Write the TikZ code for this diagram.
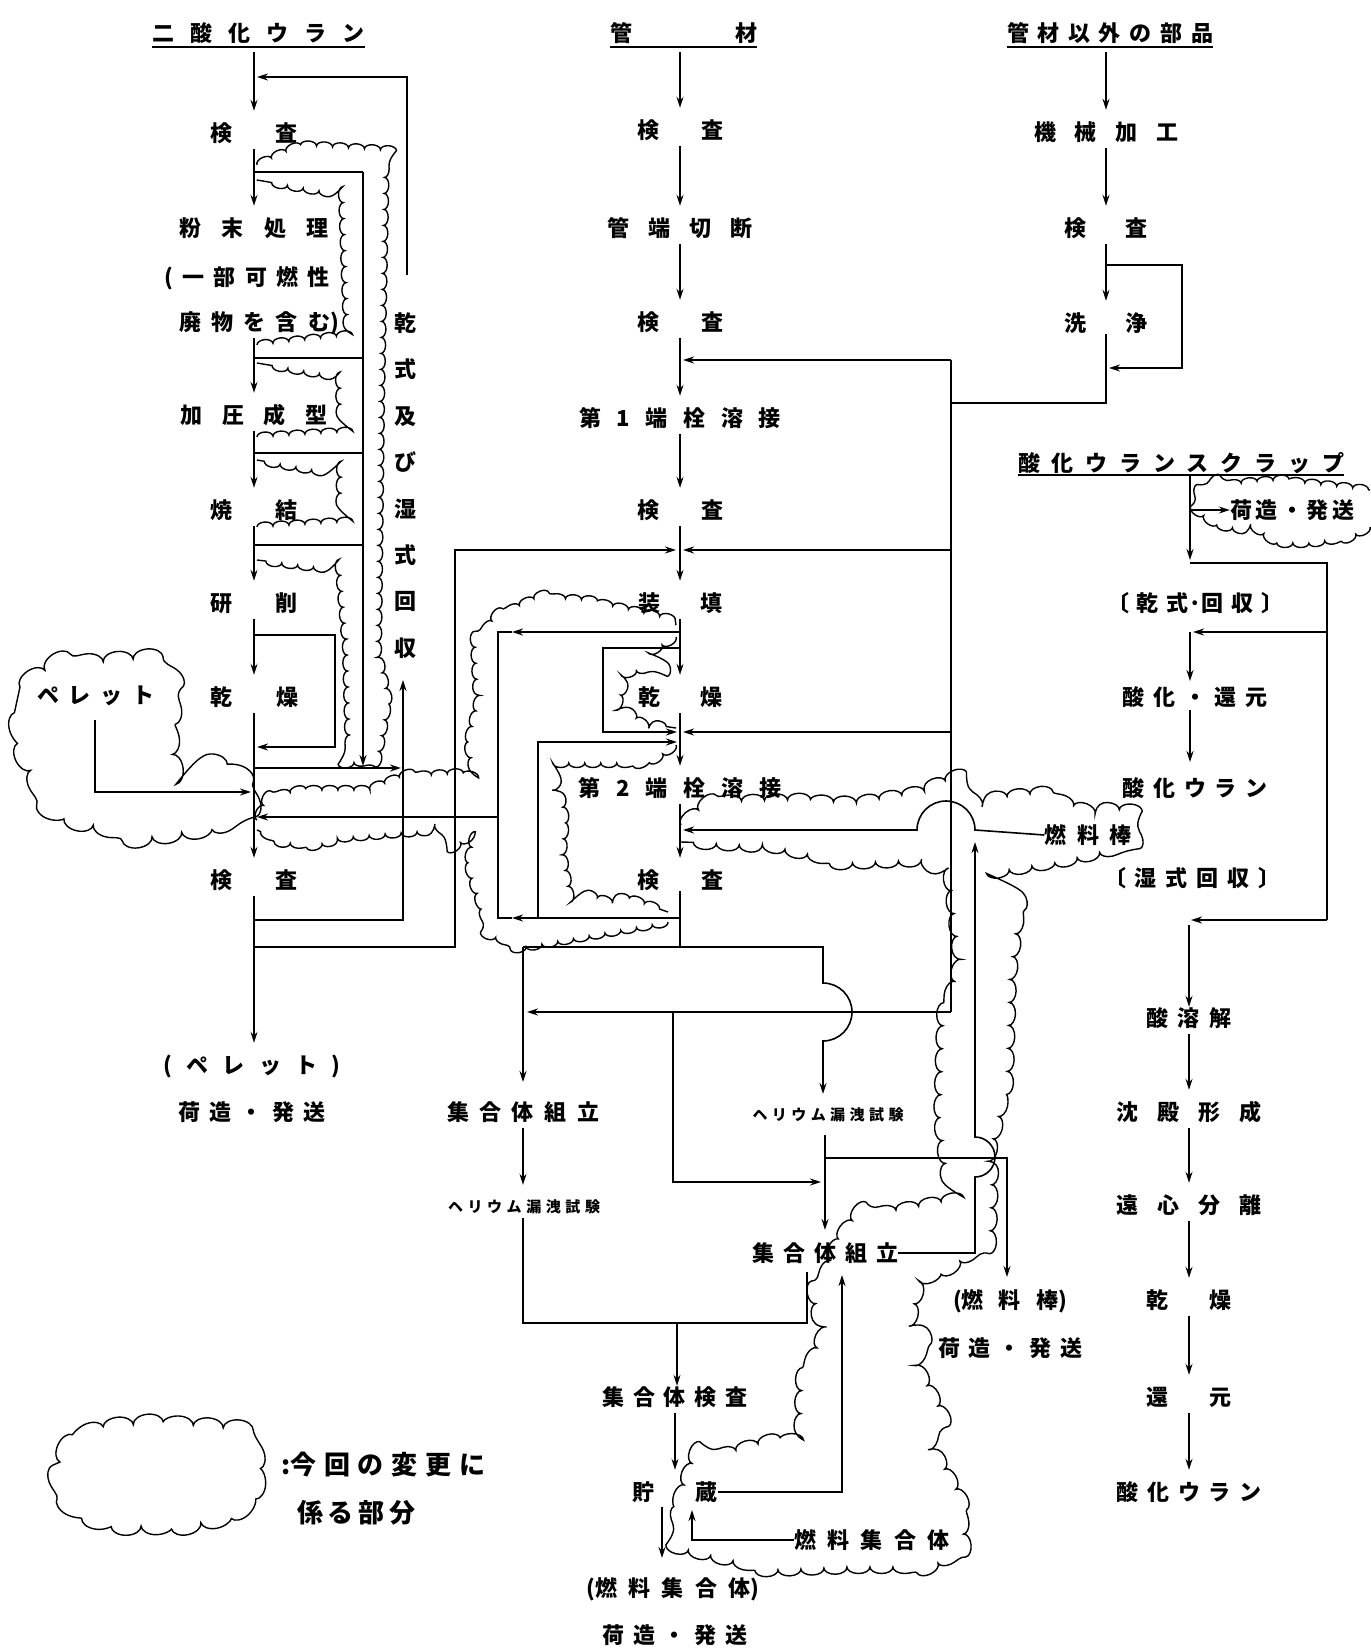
\documentclass[tikz,border=0pt]{standalone}
\usepackage{fontspec}
\newfontfamily\jp{Noto Sans CJK JP}
\usetikzlibrary{arrows.meta,decorations.pathmorphing}
\newcommand\spreadbox[2]{\makebox[#1]{#2}}
\begin{document}
\begin{tikzpicture}[x=1pt,y=-1pt,
  txt/.style={font=\jp\bfseries\fontsize{22}{24}\selectfont, inner sep=0pt, text height=19.4pt, text depth=2.6pt, minimum height=22pt},
  sml/.style={font=\jp\bfseries\fontsize{15}{16}\selectfont, inner sep=0pt, text height=13.2pt, text depth=1.8pt, minimum height=22pt},
  ttl/.style={txt, inner ysep=3pt},
  leg/.style={font=\jp\bfseries\fontsize{26}{28}\selectfont, inner sep=0pt, anchor=west},
  ln/.style={line width=1.6pt},
  arr/.style={ln, -{Stealth[length=11pt,width=7pt]}},
  flow/.style={arr, shorten <=5pt, shorten >=11pt},
  cloudS/.style={line width=1.4pt, decorate, decoration={bumps, segment length=32pt, amplitude=4.5pt}},
  cloudM/.style={line width=1.4pt, decorate, decoration={bumps, segment length=46pt, amplitude=6.5pt}},
  cloudL/.style={line width=1.4pt, decorate, decoration={bumps, segment length=60pt, amplitude=9pt}}]
\fill[white] (0,0) rectangle (1370,1648);
\useasboundingbox (0,0) rectangle (1370,1648);

% ---------------- left column: uranium dioxide ----------------
\node[ttl] (tU) at (258.5,33) {\spreadbox{212pt}{二\hfill 酸\hfill 化\hfill ウ\hfill ラ\hfill ン}};
\draw[ln] (tU.south west) -- (tU.south east);
\node[txt] (kL1) at (254,133) {\spreadbox{87pt}{検\hfill 査}};
\node[txt] (fun1) at (254,228) {\spreadbox{150pt}{粉\hfill 末\hfill 処\hfill 理}};
\node[txt] (fun2) at (247,277) {\spreadbox{165pt}{(\hfill 一\hfill 部\hfill 可\hfill 燃\hfill 性}};
\node[txt] (fun3) at (259,322) {\spreadbox{160pt}{廃\hfill 物\hfill を\hfill 含\hfill む)}};
\node[txt] (kaatsu) at (254,415) {\spreadbox{147pt}{加\hfill 圧\hfill 成\hfill 型}};
\node[txt] (shoketsu) at (254,510) {\spreadbox{87pt}{焼\hfill 結}};
\node[txt] (kensaku) at (254,603) {\spreadbox{87pt}{研\hfill 削}};
\node[txt] (kansoL) at (254,697) {\spreadbox{88pt}{乾\hfill 燥}};
\node[txt] (kL2) at (254,880) {\spreadbox{87pt}{検\hfill 査}};
\node[txt] (pelL) at (252,1065) {\spreadbox{177pt}{(\hfill ペ\hfill レ\hfill ッ\hfill ト\hfill )}};
\node[txt] (niL) at (252,1112) {\spreadbox{147pt}{荷\hfill 造\hfill ・\hfill 発\hfill 送}};
\node[txt] (pelC) at (96,695) {\spreadbox{118pt}{ペ\hfill レ\hfill ッ\hfill ト}};
\foreach \c [count=\i] in {乾,式,及,び,湿,式,回,収}
  \node[txt] (v\i) at (405,{323+46.4*(\i-1)}) {\c};

\draw[flow] (tU.south -| kL1) -- (kL1.north);
\draw[flow] (kL1.south) -- (fun1.north);
\draw[flow] (fun3.south -| kL1) -- (kaatsu.north);
\draw[flow] (kaatsu.south) -- (shoketsu.north);
\draw[flow] (shoketsu.south) -- (kensaku.north);
\draw[flow] (kensaku.south) -- (kansoL.north);
\draw[flow] (kansoL.south) -- (kL2.north);
\draw[flow] (kL2.south) -- (pelL.north -| kL2);

\coordinate (Lb1) at (254,172); \coordinate (Lb2) at (254,358);
\coordinate (Lb3) at (254,453); \coordinate (Lb4) at (254,545);
\coordinate (Rv) at (363,172);  \coordinate (RvE) at (363,766);
\draw[ln] (Lb1) -- (Rv);
\draw[arr] (Rv) -- (RvE);
\draw[ln] (Lb2) -- (Rv |- Lb2);
\draw[ln] (Lb3) -- (Rv |- Lb3);
\draw[ln] (Lb4) -- (Rv |- Lb4);
\coordinate (Lb5) at (254,635); \coordinate (Lb6) at (257,747);
\draw[arr] (Lb5) -- (335,635) -- (335,747) -- (Lb6);
\coordinate (Lb7) at (254,768); \coordinate (UpL) at (401,768);
\draw[arr] (Lb7) -- (UpL);
\coordinate (Lb9) at (254,920); \coordinate (UpTip) at (403,680);
\draw[arr] (Lb9) -- (403,920) -- (UpTip);
\coordinate (RecTop) at (407,275); \coordinate (Lb0) at (257,77);
\draw[arr] (RecTop) -- (407,77) -- (Lb0);
\coordinate (P1) at (95,720); \coordinate (Lp) at (251,792);
\draw[arr] (P1) -- (95,792) -- (Lp);
\coordinate (Lb8) at (257,817); \coordinate (Vx) at (498,817);
\draw[arr] (Vx) -- (Lb8);
\coordinate (Lb10) at (254,947); \coordinate (Mb1) at (676,550);
\draw[arr] (Lb10) -- (455,947) -- (455,550) -- (Mb1);

% ---------------- middle column: tubing ----------------
\node[ttl] (tK) at (683.5,33) {\spreadbox{147pt}{管\hfill 材}};
\draw[ln] (tK.south west) -- (tK.south east);
\node[txt] (kM1) at (680,130) {\spreadbox{86pt}{検\hfill 査}};
\node[txt] (kantan) at (680,228) {\spreadbox{145pt}{管\hfill 端\hfill 切\hfill 断}};
\node[txt] (kM2) at (680,322) {\spreadbox{86pt}{検\hfill 査}};
\node[txt] (dai1) at (680,418) {\spreadbox{202pt}{第\hfill 1\hfill 端\hfill 栓\hfill 溶\hfill 接}};
\node[txt] (kM3) at (680,510) {\spreadbox{86pt}{検\hfill 査}};
\node[txt] (soten) at (680,603) {\spreadbox{84pt}{装\hfill 填}};
\node[txt] (kansoM) at (680,697) {\spreadbox{84pt}{乾\hfill 燥}};
\node[txt] (dai2) at (680,788) {\spreadbox{203pt}{第\hfill 2\hfill 端\hfill 栓\hfill 溶\hfill 接}};
\node[txt] (kM4) at (680,880) {\spreadbox{86pt}{検\hfill 査}};

\draw[flow] (tK.south -| kM1) -- (kM1.north);
\draw[flow] (kM1.south) -- (kantan.north);
\draw[flow] (kantan.south) -- (kM2.north);
\draw[flow] (kM2.south) -- (dai1.north);
\draw[flow] (dai1.south) -- (kM3.north);
\draw[flow] (kM3.south) -- (soten.north);
\draw[flow] (soten.south) -- (kansoM.north);
\draw[flow] (kansoM.south) -- (dai2.north);
\draw[flow] (dai2.south) -- (kM4.north);
\draw[ln] (kM4.south) -- (680,947);

% parts line
\coordinate (Pt) at (951,360); \coordinate (Pb) at (951,1012);
\draw[ln] (Pt) -- (Pb);
\draw[arr] (Pt) -- (683,360);
\draw[arr] (951,550) -- (683,550);
\draw[arr] (951,732) -- (683,732);
\draw[arr] (Pb) -- (527,1012);

% loops around loading / drying
\draw[arr] (680,632) -- (512,632);
\draw[ln] (512,632) -- (Vx |- 0,632) -- (498,918) -- (512,918);
\draw[arr] (680,918) -- (512,918);
\draw[arr] (680,648) -- (603,648) -- (603,732) -- (677,732);
\draw[arr] (538,918) -- (538,742) -- (677,742);

% distribution to assembly
\draw[ln] (523,947) -- (680,947);
\draw[arr] (680,947) -- (823,947) -- (823,983) arc[start angle=90,end angle=-90,radius=29pt] -- (823,1094);
\draw[arr] (523,947) -- (523,1082);
\draw[arr] (673,1012) -- (673,1182) -- (821,1182);

% ---------------- assembly area ----------------
\node[txt] (shuL) at (523,1112) {\spreadbox{152pt}{集\hfill 合\hfill 体\hfill 組\hfill 立}};
\node[sml] (helL) at (524,1207) {\spreadbox{152pt}{ヘ\hfill リ\hfill ウ\hfill ム\hfill 漏\hfill 洩\hfill 試\hfill 験}};
\node[sml] (helR) at (828,1115) {\spreadbox{151pt}{ヘ\hfill リ\hfill ウ\hfill ム\hfill 漏\hfill 洩\hfill 試\hfill 験}};
\node[txt] (shuR) at (825,1253) {\spreadbox{146pt}{集\hfill 合\hfill 体\hfill 組\hfill 立}};
\node[txt] (shuK) at (675,1397) {\spreadbox{145pt}{集\hfill 合\hfill 体\hfill 検\hfill 査}};
\node[txt] (chozo) at (675,1492) {\spreadbox{85pt}{貯\hfill 蔵}};
\node[txt] (nenS) at (673,1588) {\spreadbox{173pt}{(燃\hfill 料\hfill 集\hfill 合\hfill 体)}};
\node[txt] (niM) at (675,1635) {\spreadbox{145pt}{荷\hfill 造\hfill ・\hfill 発\hfill 送}};
\node[txt] (nenSA) at (872,1540) {\spreadbox{155pt}{燃\hfill 料\hfill 集\hfill 合\hfill 体}};
\node[txt] (nenB) at (1088,835) {\spreadbox{87pt}{燃\hfill 料\hfill 棒}};
\node[txt] (nenB2) at (1010,1300) {\spreadbox{114pt}{(燃\hfill 料\hfill 棒)}};
\node[txt] (niB) at (1010,1348) {\spreadbox{144pt}{荷\hfill 造\hfill ・\hfill 発\hfill 送}};

\draw[flow] (shuL.south) -- (helL.north -| shuL);
\draw[ln] (825,1135) -- (825,1158);
\draw[arr] (825,1158) -- (825,1230);
\draw[arr] (825,1158) -- (1007,1158) -- (1007,1277);
\draw[arr] (shuR.east) -- (975,1253) -- (975,1177) arc[start angle=-90,end angle=90,radius=20pt] -- (975,842);
\draw[arr] (nenB.west) -- (975,830) arc[start angle=0,end angle=180,radius=29pt] -- (683,830);
\draw[ln] (helL.south -| shuL) -- (523,1323) -- (807,1323) -- (807,1272);
\draw[arr] (677,1323) -- (shuK.north -| 677,0);
\draw[flow] (shuK.south) -- (chozo.north);
\draw[arr] (662,1507) -- (662,1558);
\draw[arr] (chozo.east) -- (842,1492) -- (842,1275);
\draw[arr] (nenSA.west) -- (692,1540) -- (692,1510);

% ---------------- right: parts other than tubing ----------------
\node[ttl] (tB) at (1110,33) {\spreadbox{206pt}{管\hfill 材\hfill 以\hfill 外\hfill の\hfill 部\hfill 品}};
\draw[ln] (tB.south west) -- (tB.south east);
\node[txt] (kikai) at (1106,132) {\spreadbox{144pt}{機\hfill 械\hfill 加\hfill 工}};
\node[txt] (kR1) at (1106,228) {\spreadbox{83pt}{検\hfill 査}};
\node[txt] (senjo) at (1106,323) {\spreadbox{83pt}{洗\hfill 浄}};
\draw[flow] (tB.south -| kikai) -- (kikai.north);
\draw[flow] (kikai.south) -- (kR1.north);
\draw[flow] (kR1.south) -- (senjo.north);
\draw[arr] (1106,265) -- (1182,265) -- (1182,368) -- (1109,368);
\draw[ln] (senjo.south) -- (1106,403) -- (951,403);

% ---------------- right: scrap ----------------
\node[txt, inner ysep=1pt] (tS) at (1181,463) {\spreadbox{326pt}{酸\hfill 化\hfill ウ\hfill ラ\hfill ン\hfill ス\hfill ク\hfill ラ\hfill ッ\hfill プ}};
\draw[ln] (tS.south west) -- (tS.south east);
\node[txt] (niS) at (1292,510) {\spreadbox{124pt}{荷\hfill 造\hfill ・\hfill 発\hfill 送}};
\node[txt] (kanR) at (1195,603) {\spreadbox{176pt}{〔\hfill 乾\hfill 式·回\hfill 収\hfill 〕}};
\node[txt] (sankaK) at (1195,697) {\spreadbox{145pt}{酸\hfill 化\hfill ・\hfill 還\hfill 元}};
\node[txt] (sankaU1) at (1195,788) {\spreadbox{145pt}{酸\hfill 化\hfill ウ\hfill ラ\hfill ン}};
\node[txt] (shitsR) at (1192,878) {\spreadbox{176pt}{〔\hfill 湿\hfill 式\hfill 回\hfill 収\hfill 〕}};
\node[txt] (sanyo) at (1189,1018) {\spreadbox{85pt}{酸\hfill 溶\hfill 解}};
\node[txt] (chinden) at (1189,1112) {\spreadbox{145pt}{沈\hfill 殿\hfill 形\hfill 成}};
\node[txt] (enshin) at (1189,1205) {\spreadbox{145pt}{遠\hfill 心\hfill 分\hfill 離}};
\node[txt] (kansoR) at (1189,1300) {\spreadbox{85pt}{乾\hfill 燥}};
\node[txt] (kangen) at (1189,1397) {\spreadbox{85pt}{還\hfill 元}};
\node[txt] (sankaU2) at (1189,1492) {\spreadbox{145pt}{酸\hfill 化\hfill ウ\hfill ラ\hfill ン}};

\draw[arr] (1190,475) -- (1190,560);
\draw[ln] (1190,563) -- (1327,563) -- (1327,920);
\draw[arr] (1190,510) -- (niS.west);
\draw[arr] (1327,632) -- (1193,632);
\draw[arr] (1190,632) -- (1190,681);
\draw[arr] (1190,710) -- (1190,762);
\draw[arr] (1327,920) -- (1191,920);
\draw[arr] (1189,925) -- (sanyo.north);
\draw[flow] (sanyo.south) -- (chinden.north);
\draw[flow] (chinden.south) -- (enshin.north);
\draw[flow] (enshin.south) -- (kansoR.north);
\draw[flow] (kansoR.south) -- (kangen.north);
\draw[flow] (kangen.south) -- (sankaU2.north);

% ---------------- clouds ----------------
% left recovery comb
\draw[cloudS] (257,165) -- (300,145) -- (385,150) -- (380,400) -- (377,650) -- (388,700) -- (377,760) -- (350,763) -- (347,650) -- (340,570) -- (257,560);
\draw[cloudS] (257,345) -- (348,335) -- (343,195) -- (257,180);
\draw[cloudS] (257,437) -- (341,432) -- (340,377) -- (257,363);
\draw[cloudS] (257,527) -- (340,522) -- (341,475) -- (257,460);
% pellet cloud
\draw[cloudL] (20,687) -- (53,665) -- (100,662) -- (147,658) -- (165,672) -- (170,697) -- (168,720) -- (173,760) -- (213,763) -- (240,775) -- (248,795) -- (240,815) -- (217,827) -- (150,837) -- (93,825) -- (50,810) -- (27,763) -- (17,723) -- cycle;
% middle cloud with band
\draw[cloudS] (257,820) -- (267,798) -- (300,790) -- (367,790) -- (400,777) -- (460,773) -- (475,777) -- (468,743) -- (478,703) -- (475,643) -- (495,617) -- (538,597) -- (585,600) -- (662,617) -- (676,625);
\draw[cloudS] (676,637) -- (662,645) -- (665,663) -- (628,673) -- (618,703) -- (642,723) -- (676,728);
\draw[cloudS] (676,745) -- (658,757) -- (642,763) -- (568,763) -- (558,780) -- (565,820) -- (562,853) -- (568,887) -- (598,898) -- (628,898) -- (668,912);
\draw[cloudS] (668,922) -- (622,930) -- (548,943) -- (525,947) -- (495,937) -- (485,917) -- (475,887) -- (468,863) -- (475,833) -- (460,843) -- (443,830) -- (400,833) -- (350,837) -- (317,845) -- (287,843) -- (257,830);
% right big cloud
\draw[cloudM] (681,825) -- (708,802) -- (788,800) -- (855,803) -- (915,793) -- (947,780) -- (973,800) -- (1040,793) -- (1077,807) -- (1123,810) -- (1132,830) -- (1123,847) -- (1067,860) -- (1007,870) -- (1020,900) -- (1010,977) -- (1007,1080) -- (993,1140) -- (990,1240) -- (947,1270) -- (920,1280) -- (912,1313) -- (927,1340) -- (915,1363) -- (940,1410) -- (930,1443) -- (960,1497) -- (965,1550) -- (930,1567) -- (855,1567) -- (772,1570) -- (688,1550) -- (675,1510) -- (692,1463) -- (772,1440) -- (800,1440) -- (802,1380) -- (822,1337) -- (815,1300) -- (838,1240) -- (855,1217) -- (915,1207) -- (950,1200) -- (940,1120) -- (943,1020) -- (960,963) -- (950,880) -- (923,860) -- (848,863) -- (775,847) -- (705,843) -- (681,842);
% scrap shipping cloud
\draw[cloudS] (1370,527) -- (1350,537) -- (1310,543) -- (1277,543) -- (1263,533) -- (1217,525) -- (1203,515) -- (1200,500) -- (1210,487) -- (1243,483) -- (1277,480) -- (1343,487) -- (1370,490);
% legend
\draw[cloudL] (60,1462) -- (70,1440) -- (100,1428) -- (140,1424) -- (180,1425) -- (225,1428) -- (250,1440) -- (258,1462) -- (256,1495) -- (235,1515) -- (190,1525) -- (140,1526) -- (95,1520) -- (68,1505) -- (60,1485) -- cycle;
\node[leg] (legA) at (281,1465) {\spreadbox{204pt}{:今\hfill 回\hfill の\hfill 変\hfill 更\hfill に}};
\node[leg] (legB) at (297,1513) {\spreadbox{118pt}{係\hfill る\hfill 部\hfill 分}};
\end{tikzpicture}
\end{document}
